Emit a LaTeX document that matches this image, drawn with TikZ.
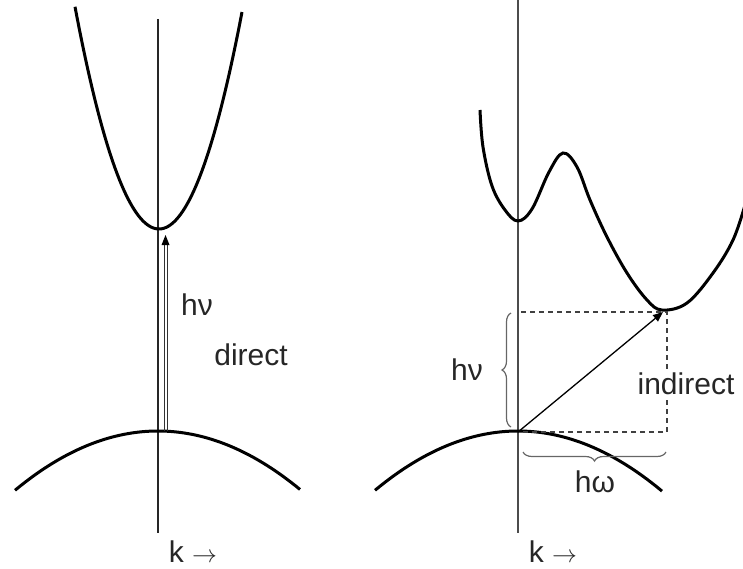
\documentclass[tikz,border=0pt]{standalone}
\usepackage{fontspec}
\setmainfont{Liberation Sans}
\usetikzlibrary{arrows.meta,decorations.pathreplacing}
\begin{document}
\begin{tikzpicture}[x=1pt,y=-1pt,
  band/.style={line width=3pt,black},
  axisline/.style={line width=1.5pt,black!70},
  dashline/.style={dashed,dash pattern=on 5pt off 4pt,line width=1.3pt,black!75},
  bracestyle/.style={decorate,decoration={brace,amplitude=9pt},line width=1.2pt,black!60},
  lbl/.style={font=\fontsize{30}{33}\selectfont,inner sep=0pt,text=black!85}]
\useasboundingbox (0,0) rectangle (743,569);
% ---------- left panel ----------
\coordinate (LAtop) at (158,19);
\coordinate (LAbot) at (158,533);
\draw[line width=1.4pt,black!85] (LAtop) -- (LAbot);
\draw[band] plot[domain=75:242,samples=80] (\x,{229-0.0315*(\x-159)*(\x-159)});
\draw[band] plot[domain=15:300,samples=80] (\x,{431+0.0029*(\x-158)*(\x-158)});
\coordinate (A1s) at (164,431); \coordinate (A1e) at (164,242);
\coordinate (A2s) at (167,431); \coordinate (A2e) at (167,242);
\draw[line width=1pt,black!80] (A1s) -- (A1e);
\draw[line width=1pt,black!80] (A2s) -- (A2e);
\coordinate (Atip) at (165.5,235);
\fill[black] (Atip) -- (169.5,245) -- (161.5,245) -- cycle;
\node[lbl] (hvL) at (197,305) {hν};
\node[lbl] (direct) at (251,355) {direct};
\node[lbl] (kL) at (193,552) {k $\rightarrow$};
% ---------- right panel ----------
\coordinate (RAtop) at (518,0);
\coordinate (RAbot) at (518,533);
\draw[axisline] (RAtop) -- (RAbot);
\draw[band] plot[smooth,tension=0.6] coordinates {(480,110) (483,147) (492,186) (505,210) (518,221) (532,209) (549,172) (563,153) (577,167) (590,200) (607,237) (627,273) (647,300) (662,310) (687,303) (713,273) (733,240) (745,205)};
\draw[band] plot[domain=375:662,samples=80] (\x,{431+0.0029*(\x-518)*(\x-518)});
\coordinate (V) at (518,432);
\coordinate (C) at (663,312);
\coordinate (D1) at (521,312);
\coordinate (D2) at (667,312);
\coordinate (D3) at (667,432);
\coordinate (D4) at (521,432);
\draw[dashline] (D1) -- (D2) -- (D3) -- (D4);
\draw[line width=1.3pt,-{Triangle[length=10pt,width=8pt]}] (V) -- (C);
\coordinate (B1a) at (511,427); \coordinate (B1b) at (511,313);
\draw[bracestyle] (B1a) -- (B1b);
\coordinate (B2a) at (666,452); \coordinate (B2b) at (523,452);
\draw[bracestyle] (B2a) -- (B2b);
\node[lbl] (hvR) at (467,370) {hν};
\node[lbl] (hw) at (595,482) {hω};
\node[lbl,fill=white,inner ysep=4pt] (indirect) at (686,384) {indirect};
\node[lbl] (kR) at (553,552) {k $\rightarrow$};
\end{tikzpicture}
\end{document}
